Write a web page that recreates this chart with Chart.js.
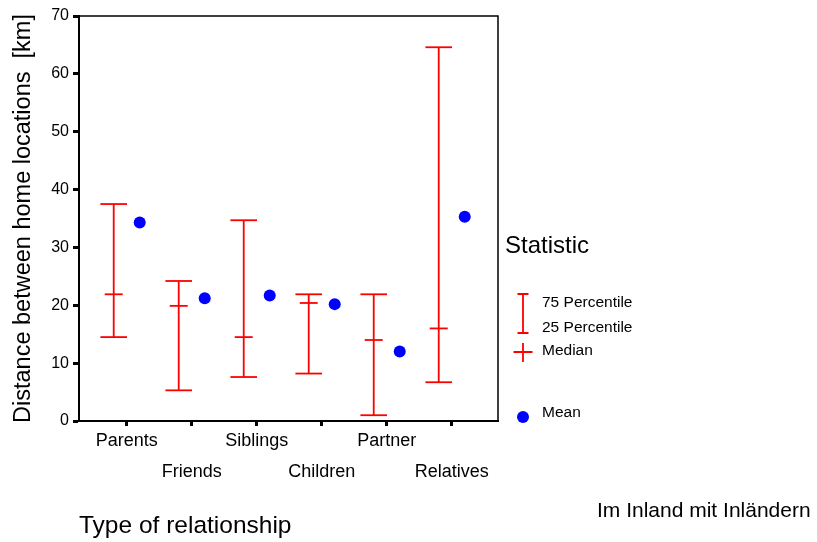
<!DOCTYPE html>
<html>
<head>
<meta charset="utf-8">
<script src="https://cdn.jsdelivr.net/npm/chart.js@4/dist/chart.umd.min.js"></script>
<style>
  html, body { margin: 0; padding: 0; background: #fff; }
  #wrap { width: 817px; height: 542px; }
</style>
</head>
<body>
<div id="wrap"><canvas id="c" width="817" height="542"></canvas></div>
<script>
// Distance between home locations by type of relationship (km)
const categories = ['Parents', 'Friends', 'Siblings', 'Children', 'Partner', 'Relatives'];
const p75    = [37.5, 24.2, 34.7, 21.9, 21.9, 64.6];
const p25    = [14.5,  5.3,  7.6,  8.2,  1.0,  6.7];
const median = [21.9, 19.9, 14.5, 20.4, 14.0, 16.0];
const mean   = [34.3, 21.2, 21.7, 20.2, 12.0, 35.3];
const yTicks = [0, 10, 20, 30, 40, 50, 60, 70];

const FONT = "'Liberation Sans', Arial, Helvetica, sans-serif";
const RED = '#ff0000';
const BLUE = '#0000ff';
const LINE_W = 1.8;
// percentile bars sit left of the category tick, the mean dot right of it
const SHIFT = 0.2;

const barX = i => i + 1 - SHIFT;
const dotX = i => i + 1 + SHIFT;

const whiskers = categories.flatMap((c, i) => [
  { x: barX(i), y: p25[i] },
  { x: barX(i), y: p75[i] },
  { x: barX(i), y: null }
]);
const caps = categories.flatMap((c, i) => [
  { x: barX(i), y: p25[i] },
  { x: barX(i), y: p75[i] }
]);
const medians = categories.map((c, i) => ({ x: barX(i), y: median[i] }));
const means = categories.map((c, i) => ({ x: dotX(i), y: mean[i] }));

// Outer frame edges and the "Statistic" key
const frameAndKey = {
  id: 'frameAndKey',
  afterDraw(chart) {
    const { ctx, chartArea: a } = chart;
    ctx.save();
    ctx.strokeStyle = '#000';
    ctx.lineWidth = 1.5;
    ctx.beginPath();
    ctx.moveTo(a.left, a.top);
    ctx.lineTo(a.right, a.top);
    ctx.lineTo(a.right, a.bottom);
    ctx.stroke();

    const kx = a.right + 25;      // icon column
    const tx = a.right + 44;      // text column
    ctx.fillStyle = '#000';
    ctx.textBaseline = 'middle';
    ctx.textAlign = 'left';
    ctx.font = '24px ' + FONT;
    ctx.fillText('Statistic', a.right + 7, 246);

    // percentile bar icon
    ctx.strokeStyle = RED;
    ctx.lineWidth = LINE_W;
    ctx.beginPath();
    ctx.moveTo(kx, 294); ctx.lineTo(kx, 333);
    ctx.moveTo(kx - 5.5, 294); ctx.lineTo(kx + 5.5, 294);
    ctx.moveTo(kx - 5.5, 333); ctx.lineTo(kx + 5.5, 333);
    // median cross icon
    ctx.moveTo(kx - 9.5, 352); ctx.lineTo(kx + 9.5, 352);
    ctx.moveTo(kx, 343); ctx.lineTo(kx, 362);
    ctx.stroke();
    // mean dot icon
    ctx.fillStyle = BLUE;
    ctx.beginPath();
    ctx.arc(kx, 417, 6, 0, Math.PI * 2);
    ctx.fill();

    ctx.fillStyle = '#000';
    ctx.font = '15.5px ' + FONT;
    ctx.fillText('75 Percentile', tx, 303);
    ctx.fillText('25 Percentile', tx, 328);
    ctx.fillText('Median', tx, 351);
    ctx.fillText('Mean', tx, 413);

    ctx.font = '21px ' + FONT;
    ctx.fillText('Im Inland mit Inländern', a.right + 99, 511);
    ctx.restore();
  }
};

new Chart(document.getElementById('c'), {
  type: 'scatter',
  data: {
    datasets: [
      {
        label: 'Percentile range',
        data: whiskers,
        showLine: true,
        spanGaps: false,
        borderColor: RED,
        borderWidth: LINE_W,
        pointRadius: 0
      },
      {
        label: '75 / 25 Percentile',
        data: caps,
        pointStyle: 'line',
        pointRadius: 13.3,
        borderColor: RED,
        borderWidth: LINE_W
      },
      {
        label: 'Median',
        data: medians,
        pointStyle: 'line',
        pointRadius: 9,
        borderColor: RED,
        borderWidth: LINE_W
      },
      {
        label: 'Mean',
        data: means,
        pointStyle: 'circle',
        pointRadius: 6,
        backgroundColor: BLUE,
        borderWidth: 0
      }
    ]
  },
  options: {
    responsive: false,
    animation: false,
    events: [],
    layout: { padding: { left: 0, top: 16, right: 319, bottom: 0 } },
    plugins: { legend: { display: false }, tooltip: { enabled: false } },
    scales: {
      x: {
        type: 'linear',
        min: 0.266,
        max: 6.712,
        afterBuildTicks: s => { s.ticks = categories.map((c, i) => ({ value: i + 1 })); },
        afterFit: s => { s.height = 121; },
        border: { display: true, color: '#000', width: 2 },
        grid: { drawOnChartArea: false, drawTicks: true, tickLength: 5, tickWidth: 3, tickColor: '#000' },
        ticks: {
          autoSkip: false,
          maxRotation: 0,
          padding: 0,
          color: '#000',
          font: { family: FONT, size: 18, lineHeight: 1.7 },
          callback: (v, idx) => idx % 2 === 0 ? categories[idx] : ['', categories[idx]]
        },
        title: {
          display: true,
          text: 'Type of relationship',
          align: 'start',
          color: '#000',
          font: { family: FONT, size: 24.5, lineHeight: 1.2 },
          padding: { top: 0, bottom: 1 }
        }
      },
      y: {
        min: 0,
        max: 70,
        afterBuildTicks: s => { s.ticks = yTicks.map(v => ({ value: v })); },
        afterFit: s => { s.width = 79; },
        border: { display: true, color: '#000', width: 2 },
        grid: { drawOnChartArea: false, drawTicks: true, tickLength: 6, tickWidth: 3, tickColor: '#000' },
        ticks: {
          padding: 4,
          color: '#000',
          font: { family: FONT, size: 16 }
        },
        title: {
          display: true,
          text: 'Distance between home locations  [km]',
          color: '#000',
          font: { family: FONT, size: 23.5, lineHeight: 1.2 },
          padding: { top: 9, bottom: 0 }
        }
      }
    }
  },
  plugins: [frameAndKey]
});
</script>
</body>
</html>
